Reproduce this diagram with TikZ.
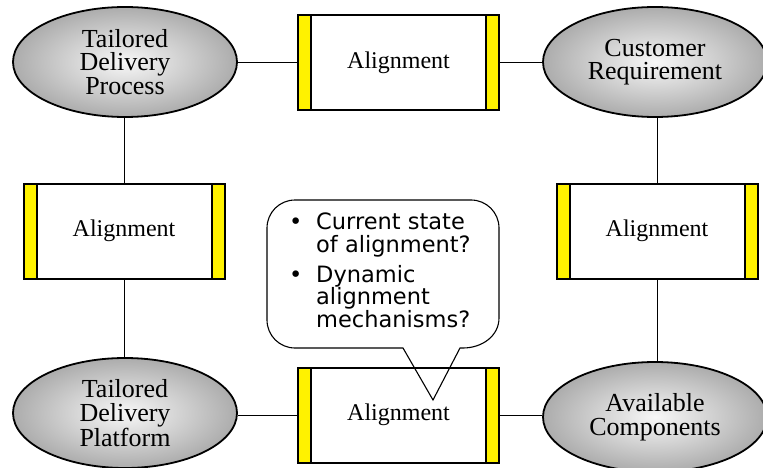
\documentclass[tikz,border=0pt]{standalone}
\usepackage{fontspec}
\setmainfont{Liberation Serif}
\newfontfamily\bubblefont{DejaVu Sans}
\usetikzlibrary{shapes.geometric}
\tikzset{
  goal/.style={ellipse, draw, line width=1.8pt, minimum width=224pt, minimum height=110pt,
    inner sep=0pt, shading=radial, inner color=gray!6, outer color=gray!65,
    align=center, font=\fontsize{26}{23.5}\selectfont},
  alignbox/.style={rectangle, draw, line width=2pt, fill=white, minimum width=201pt,
    minimum height=95pt, inner sep=0pt, font=\fontsize{24}{26}\selectfont,
    path picture={
      \fill[yellow] (path picture bounding box.north west) rectangle
        ([xshift=13pt]path picture bounding box.south west);
      \fill[yellow] (path picture bounding box.north east) rectangle
        ([xshift=-13pt]path picture bounding box.south east);
      \draw[line width=2pt] ([xshift=13pt]path picture bounding box.north west) --
        ([xshift=13pt]path picture bounding box.south west);
      \draw[line width=2pt] ([xshift=-13pt]path picture bounding box.north east) --
        ([xshift=-13pt]path picture bounding box.south east);
    }},
  link/.style={line width=0.9pt},
  bubbletext/.style={anchor=base west, inner sep=0pt, font=\bubblefont\fontsize{22.5}{24}\selectfont}
}
\begin{document}
\begin{tikzpicture}[x=1pt, y=-1pt]
  \useasboundingbox (0,0) rectangle (763,468);

  % goals
  \node[goal] (tdp)  at (125,62)  {Tailored\\Delivery\\Process};
  \node[goal] (cr)   at (655,62)  {Customer\\Requirement};
  \node[goal] (tdpl) at (125,413) {Tailored\\Delivery\\Platform};
  \node[goal] (ac)   at (655,417) {Available\\Components};

  % alignment boxes
  \node[alignbox] (atop)   at (398.5,63)  {Alignment};
  \node[alignbox] (aleft)  at (124,231)   {Alignment};
  \node[alignbox] (aright) at (657,231)   {Alignment};
  \node[alignbox] (abot)   at (398.5,415) {Alignment};

  % connectors
  \draw[link] (tdp.east) -- (tdp.east -| atop.west);
  \draw[link] (atop.east |- cr.west) -- (cr.west);
  \draw[link] (tdp.south -| aleft.north) -- (aleft.north);
  \draw[link] (aleft.south) -- (tdpl.north -| aleft.south);
  \draw[link] (cr.south -| aright.north) -- (aright.north);
  \draw[link] (aright.south) -- (ac.north -| aright.south);
  \draw[link] (tdpl.east |- abot.west) -- (abot.west);
  \draw[link] (abot.east) -- (ac.west |- abot.east);

  % speech bubble: rounded box with a pointer into the lower box
  \coordinate (tip) at (433,400);
  \draw[line width=1.1pt, line join=miter]
    (403,348) -- (295,348)
    .. controls (279.5,348) and (267,335.5) .. (267,320)
    -- (267,228)
    .. controls (267,212.5) and (279.5,200) .. (295,200)
    -- (471,200)
    .. controls (486.5,200) and (499,212.5) .. (499,228)
    -- (499,318)
    .. controls (499,336) and (482,348) .. (463,348)
    -- (460,348) -- (tip) -- cycle;

  \node[bubbletext] (bul1) at (289,229) {\textbullet};
  \node[bubbletext] (q1a)  at (316,229) {Current state};
  \node[bubbletext] (q1b)  at (316,252) {of alignment?};
  \node[bubbletext] (bul2) at (289,282) {\textbullet};
  \node[bubbletext] (q2a)  at (316,282) {Dynamic};
  \node[bubbletext] (q2b)  at (316,304) {alignment};
  \node[bubbletext] (q2c)  at (316,327) {mechanisms?};
\end{tikzpicture}
\end{document}
